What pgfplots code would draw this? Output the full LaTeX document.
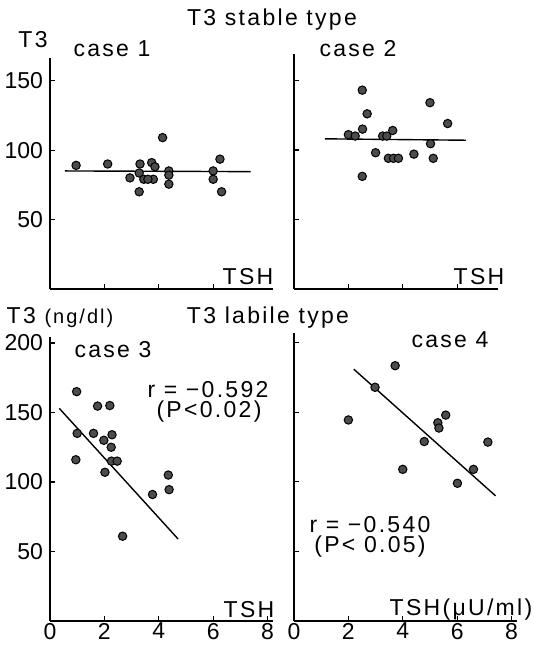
\documentclass[border=0pt]{standalone}
\usepackage{fontspec}
\setmainfont{Liberation Sans}
\usepackage{pgfplots}
\pgfplotsset{compat=1.18}
\newcommand{\ls}[1]{{\fontsize{11.5}{13}\selectfont\addfontfeature{LetterSpace=10}#1}}
\pgfplotsset{
  panel/.style={
    scale only axis,
    anchor=origin,
    axis x line=bottom, axis y line=left,
    axis line style={-, line width=1pt},
    xmin=0, ymin=0,
    tick style={line width=0.6pt, black},
    major tick length=2.6pt,
    tick align=inside,
    /pgf/number format/assume math mode=true,
    ticklabel style={font=\fontsize{11.5}{13}\selectfont},
    xticklabel style={inner sep=0.8pt},
    clip=false,
  },
  dots/.style={only marks, mark=*, mark size=2.1pt,
    mark options={fill=black!70, draw=black, line width=0.5pt}},
  reg/.style={black, line width=0.7pt},
}
\begin{document}
\begin{tikzpicture}
\path[use as bounding box] (0,0) rectangle (267pt,-322.5pt);

% case 1
\begin{axis}[panel, at={(25pt,-144.5pt)}, width=111.5pt, height=115.5pt,
  xmax=8.2, ymax=166.3, xtick={2,4,6}, xticklabels={}, ytick={50,100,150}]
\addplot[reg] coordinates {(0.55,85) (7.38,84.5)};
\addplot[dots] coordinates {
(0.96,89) (2.12,90) (2.94,80) (3.28,70) (3.31,90) (3.28,83.5) (3.45,79)
(3.8,79) (3.74,91) (3.86,88) (3.6,79) (4.14,109) (4.37,85) (4.37,82)
(4.37,75.5) (6.0,85) (6.0,79) (6.25,93.5) (6.31,70)};
\end{axis}

% case 2
\begin{axis}[panel, at={(147pt,-144.5pt)}, width=102pt, height=117.5pt,
  xmax=7.5, ymax=169, xtick={2,4,6}, xticklabels={}, ytick={50,100,150}, yticklabels={}]
\addplot[reg] coordinates {(1.14,108) (6.32,107)};
\addplot[dots] coordinates {
(2.51,143) (2.69,126) (2.52,115) (2.0,111) (2.25,110) (2.51,81) (3.0,98)
(3.26,110) (3.41,110) (3.63,114) (3.47,94) (3.66,94) (3.84,94) (4.41,97)
(5.0,134) (5.02,104.5) (5.12,94) (5.65,119)};
\end{axis}

% case 3
\begin{axis}[panel, at={(25pt,-310.5pt)}, width=111.5pt, height=142pt,
  xmax=8.2, ymax=204.3, xtick={0,2,4,6,8}, ytick={50,100,150,200}]
\addplot[reg] coordinates {(0.34,153) (4.71,59)};
\addplot[dots] coordinates {
(0.98,165) (1.0,135) (0.95,116) (1.6,135) (1.75,154.6) (2.2,155) (1.98,130)
(2.28,134) (2.25,125) (2.26,115) (2.47,115) (2.02,107) (2.67,61) (3.77,91)
(4.35,105) (4.38,94.5)};
\end{axis}

% case 4
\begin{axis}[panel, at={(147pt,-310.5pt)}, width=111.5pt, height=144pt,
  xmax=8.2, ymax=207, xtick={0,2,4,6,8}, ytick={50,100,150,200}, yticklabels={}]
\addplot[reg] coordinates {(2.2,181) (7.41,90)};
\addplot[dots] coordinates {
(2.0,144.5) (2.98,168) (3.72,183.5) (4.0,109) (4.79,129) (5.29,142.5)
(5.33,138.7) (5.58,148) (6.01,99) (6.6,109) (7.13,128.6)};
\end{axis}

% texts
\node at (136pt,-10pt) {\ls{T3 stable type}};
\node at (16.5pt,-20pt) {\ls{T3}};
\node at (56pt,-24.5pt) {\ls{case 1}};
\node at (179pt,-24.5pt) {\ls{case 2}};
\node at (124pt,-138.5pt) {\ls{TSH}};
\node at (239.5pt,-138.5pt) {\ls{TSH}};
\node at (30pt,-159pt) {\ls{T3 {\fontsize{10}{12}\selectfont(ng/dl)}}};
\node at (134pt,-159pt) {\ls{T3 labile type}};
\node at (56.5pt,-175pt) {\ls{case 3}};
\node at (225pt,-170pt) {\ls{case 4}};
\node at (104pt,-195pt) {\ls{r = −0.592}};
\node at (104.5pt,-206pt) {\ls{(P<0.02)}};
\node at (185pt,-262.5pt) {\ls{r = −0.540}};
\node at (185pt,-273.5pt) {\ls{(P< 0.05)}};
\node at (124.5pt,-305pt) {\ls{TSH}};
\node at (230.5pt,-305pt) {\ls{TSH(μU/ml)}};
\end{tikzpicture}
\end{document}
